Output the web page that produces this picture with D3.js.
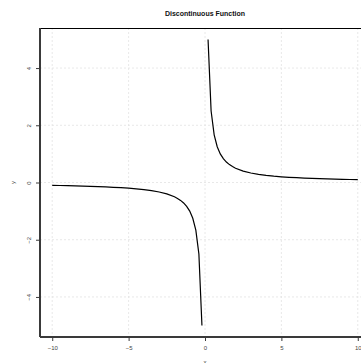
<!DOCTYPE html>
<html>
<head>
<meta charset="utf-8">
<script src="https://cdn.jsdelivr.net/npm/d3@7"></script>
<style>
  body { margin: 0; background: #fff; }
  svg { display: block; font-family: "Liberation Sans", Arial, sans-serif; }
</style>
</head>
<body>
<div id="chart"></div>
<script>
// Visualization constants
const width = 361;
const height = 363;
const margin = { top: 28, left: 40, bottom: 26, right: -9 };

// data: the two branches of the curve (y = 1/x)
const leftX = [-10, -9.5, -9, -8.5, -8, -7.5, -7, -6.5, -6, -5.5, -5, -4.5, -4, -3.5, -3, -2.5,
  -2, -1.8, -1.6, -1.4, -1.2, -1, -0.8, -0.6, -0.4, -0.2];
const leftY = [-0.1, -0.105, -0.111, -0.118, -0.125, -0.133, -0.143, -0.154, -0.167, -0.182, -0.2,
  -0.222, -0.25, -0.286, -0.333, -0.4, -0.5, -0.556, -0.625, -0.714, -0.833, -1, -1.25, -1.667, -2.5, -5];
const rightX = [0.2, 0.4, 0.6, 0.8, 1, 1.2, 1.4, 1.6, 1.8, 2, 2.5, 3, 3.5, 4, 4.5, 5, 5.5, 6, 6.5,
  7, 7.5, 8, 8.5, 9, 9.5, 10];
const rightY = [5, 2.5, 1.667, 1.25, 1, 0.833, 0.714, 0.625, 0.556, 0.5, 0.4, 0.333, 0.286, 0.25,
  0.222, 0.2, 0.182, 0.167, 0.154, 0.143, 0.133, 0.125, 0.118, 0.111, 0.105, 0.1];

const xTicks = [-10, -5, 0, 5, 10];
const yTicks = [-4, -2, 0, 2, 4];
const title = "Discontinuous Function";

const colors = {
  line: "#000",
  grid: "#e2e2e2",
  axis: "#3a3a3a",
  text: "#444"
};

var svg = d3.select("#chart").append("svg")
  .attr("width", width)
  .attr("height", height);

// domains padded by 4% like R does
const xScale = d3.scaleLinear()
  .domain([-10.8, 10.8])
  .range([margin.left, width - margin.right]);
const yScale = d3.scaleLinear()
  .domain([-5.4, 5.4])
  .range([height - margin.bottom, margin.top]);

// dotted grid at the ticks
svg.append("g").selectAll("line").data(xTicks).enter().append("line")
  .attr("x1", d => xScale(d)).attr("x2", d => xScale(d))
  .attr("y1", margin.top).attr("y2", height - margin.bottom)
  .attr("stroke", colors.grid).attr("stroke-width", 0.8)
  .attr("stroke-dasharray", "2,2");
svg.append("g").selectAll("line").data(yTicks).enter().append("line")
  .attr("x1", margin.left).attr("x2", width)
  .attr("y1", d => yScale(d)).attr("y2", d => yScale(d))
  .attr("stroke", colors.grid).attr("stroke-width", 0.8)
  .attr("stroke-dasharray", "2,2");

// top border
svg.append("line")
  .attr("x1", margin.left).attr("x2", width)
  .attr("y1", margin.top + 0.5).attr("y2", margin.top + 0.5)
  .attr("stroke", "#000").attr("stroke-width", 1.2);

// axes
var minusFormat = d => d < 0 ? "\u2212" + Math.abs(d) : d;
var xAxis = svg.append("g")
  .attr("transform", "translate(0," + (height - margin.bottom) + ")")
  .call(d3.axisBottom(xScale).tickValues(xTicks).tickSize(4).tickPadding(5)
    .tickFormat(minusFormat));
var yAxis = svg.append("g")
  .attr("transform", "translate(" + margin.left + ",0)")
  .call(d3.axisLeft(yScale).tickValues(yTicks).tickSize(4).tickFormat(minusFormat));

[xAxis, yAxis].forEach(function(ax) {
  ax.select(".domain").attr("stroke", colors.axis).attr("stroke-width", 2);
  ax.selectAll(".tick line").attr("stroke", colors.axis).attr("stroke-width", 1);
  ax.selectAll("text").attr("fill", colors.text).style("font-size", "6px");
});
xAxis.select(".domain").attr("d", "M" + margin.left + ",0H" + width);
yAxis.select(".domain").attr("d", "M0," + margin.top + "V" + (height - margin.bottom));

// y tick labels run vertically, left of the ticks
yAxis.selectAll(".tick text")
  .attr("text-anchor", "middle")
  .attr("x", 0).attr("y", 0).attr("dy", "0.35em")
  .attr("transform", "translate(-11,0) rotate(-90)");

// curve, one path per branch
var line = d3.line()
  .x(d => xScale(d[0]))
  .y(d => yScale(d[1]));
[[leftX, leftY], [rightX, rightY]].forEach(function(branch) {
  var pts = branch[0].map((x, i) => [x, branch[1][i]]);
  svg.append("path")
    .datum(pts)
    .attr("d", line)
    .attr("fill", "none")
    .attr("stroke", colors.line)
    .attr("stroke-width", 1.2);
});

// title and axis labels
svg.append("text")
  .attr("x", xScale(0)).attr("y", 16)
  .attr("text-anchor", "middle")
  .style("font-size", "7px").style("font-weight", "bold")
  .attr("fill", "#111")
  .text(title);
svg.append("text")
  .attr("transform", "translate(13," + yScale(0) + ") rotate(-90)")
  .attr("text-anchor", "middle").attr("dy", "0.35em")
  .style("font-size", "6px").attr("fill", colors.text)
  .text("y");
svg.append("text")
  .attr("x", xScale(0)).attr("y", height + 1)
  .attr("text-anchor", "middle")
  .style("font-size", "6px").attr("fill", colors.text)
  .text("x");
</script>
</body>
</html>
